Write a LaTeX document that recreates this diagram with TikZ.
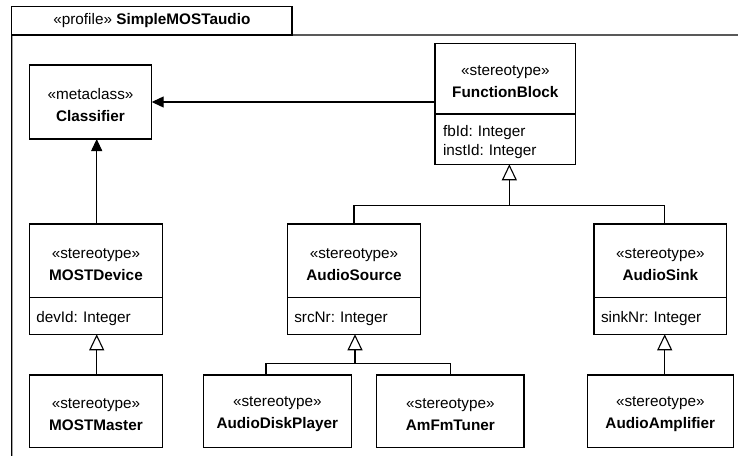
\documentclass[tikz,border=0pt]{standalone}
\usepackage{fontspec}
\setmainfont{Liberation Sans}
\frenchspacing
\usepackage{tikz}
\usetikzlibrary{arrows.meta,positioning}
\tikzstyle{classhead} = [draw, rectangle, inner sep=0pt, outer sep=0pt,
    align=center, minimum height=73.7pt, font=\fontsize{15.3}{22}\selectfont]
\tikzstyle{classattr} = [draw, rectangle, anchor=north, inner xsep=7pt,
    inner ysep=0pt, outer sep=0pt, align=left, minimum height=36.6pt,
    font=\fontsize{15.3}{19}\selectfont]
\tikzstyle{gen} = [-{Triangle[open,length=16pt,width=15pt]}]
\tikzstyle{ext} = [-{Triangle[length=12pt,width=11pt]}]
\newcommand{\topstrut}{\rule{0pt}{16.5pt}}

\begin{document}
\begin{tikzpicture}[x=1pt, y=1pt, line width=1.1pt, node distance=150.3pt]
  \useasboundingbox (0,0) rectangle (738,-455);
  % package frame
  \node [draw, rectangle, inner sep=0pt, outer sep=0pt, anchor=north west,
    minimum width=280.3pt, minimum height=28.3pt,
    font=\fontsize{15.3}{19}\selectfont] (tab) at (11.7,-6.7)
  {«profile» \textbf{SimpleMOSTaudio}};
  \coordinate (frameright) at (738,-35);
  \coordinate (framebottom) at (11.7,-460);
  \draw (framebottom) -- (tab.south west) -- (frameright);

  % metaclass and function block
  \node [classhead, minimum width=122.4pt, minimum height=74pt] (clshead)
    at (90.5,-102) {\topstrut«metaclass»\\\textbf{Classifier}};
  \node [classhead, minimum width=140.7pt, minimum height=70.7pt] (fbhead)
    at (505.35,-78.65) {\topstrut«stereotype»\\\textbf{FunctionBlock}};
  \node [classattr, text width=124.7pt, inner xsep=8pt, minimum height=50.3pt]
    (fbattr) at (fbhead.south) {\topstrut fbId: Integer\\instId: Integer};

  % second row
  \node [classhead, minimum width=133.4pt] (devhead) at (96,-260.85)
    {\topstrut«stereotype»\\\textbf{MOSTDevice}};
  \node [classattr, text width=119.4pt] (devattr) at (devhead.south)
    {\topstrut devId: Integer};
  \node [classhead, minimum width=133.4pt, right of=devhead,
    node distance=258pt] (srchead) {\topstrut«stereotype»\\\textbf{AudioSource}};
  \node [classattr, text width=119.4pt] (srcattr) at (srchead.south)
    {\topstrut srcNr: Integer};
  \node [classhead, minimum width=132.7pt, right of=srchead,
    node distance=306.35pt] (sinkhead) {\topstrut«stereotype»\\\textbf{AudioSink}};
  \node [classattr, text width=118.7pt] (sinkattr) at (sinkhead.south)
    {\topstrut sinkNr: Integer};

  % third row
  \node [classhead, minimum width=133.4pt, minimum height=72.3pt,
    below of=devhead] (masterhead) {\topstrut«stereotype»\\\textbf{MOSTMaster}};
  \node [classhead, minimum width=148pt, minimum height=72.3pt,
    right of=masterhead, node distance=181.3pt] (playerhead)
    {\topstrut«stereotype»\\\textbf{AudioDiskPlayer}};
  \node [classhead, minimum width=147.3pt, minimum height=72.3pt,
    right of=playerhead, node distance=173.05pt] (tunerhead)
    {\topstrut«stereotype»\\\textbf{AmFmTuner}};
  \node [classhead, minimum width=146pt, minimum height=72.3pt,
    right of=tunerhead, node distance=209.95pt] (amphead)
    {\topstrut«stereotype»\\\textbf{AudioAmplifier}};

  % extensions
  \draw [ext] (fbhead.west |- clshead.east) -- (clshead.east);
  \draw [ext] ([xshift=0.7pt]devhead.north) -- ([xshift=0.7pt]devhead.north |- clshead.south);

  % generalizations
  \coordinate (fbbus) at ([xshift=4pt,yshift=-41.4pt]fbattr.south);
  \draw [gen] (fbbus) -- (fbbus |- fbattr.south);
  \draw (srchead.north) |- (fbbus) -| ([xshift=4.4pt]sinkhead.north);
  \coordinate (srcbus) at ([xshift=1pt,yshift=-29.4pt]srcattr.south);
  \draw [gen] (srcbus) -- (srcbus |- srcattr.south);
  \draw ([xshift=-11.3pt]playerhead.north) |- (srcbus) -| (tunerhead.north);
  \draw [gen] ([xshift=0.7pt]masterhead.north) -- ([xshift=0.7pt]devattr.south);
  \draw [gen] ([xshift=4.4pt]amphead.north) -- ([xshift=4.4pt]amphead.north |- sinkattr.south);
\end{tikzpicture}
\end{document}
